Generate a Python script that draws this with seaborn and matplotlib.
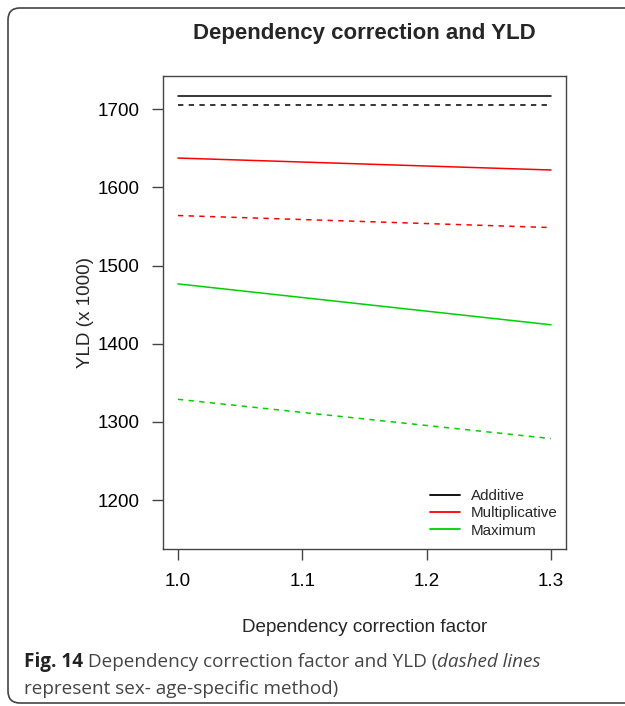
import matplotlib
matplotlib.use("Agg")
import matplotlib.pyplot as plt
import seaborn as sns
import pandas as pd
from matplotlib.lines import Line2D
from matplotlib.patches import FancyBboxPatch

# values (YLD x 1000)
factor = [1.0, 1.3]
additive = [1717.3, 1717.3]
additive_sa = [1705.5, 1705.5]
multiplicative = [1637.5, 1622.2]
multiplicative_sa = [1564.0, 1548.6]
maximum = [1476.6, 1424.3]
maximum_sa = [1329.0, 1278.8]

methods = ["Additive", "Multiplicative", "Maximum"]
colors = ["black", "#ff0000", "#00d000"]
x_ticks = [1.0, 1.1, 1.2, 1.3]
y_ticks = [1200, 1300, 1400, 1500, 1600, 1700]

rows = []
for m, overall, sa in zip(methods, [additive, multiplicative, maximum],
                          [additive_sa, multiplicative_sa, maximum_sa]):
    for f, v in zip(factor, overall):
        rows.append({"factor": f, "yld": v, "method": m, "approach": "overall"})
    for f, v in zip(factor, sa):
        rows.append({"factor": f, "yld": v, "method": m, "approach": "sex_age"})
df = pd.DataFrame(rows)

sns.set_style("ticks")
plt.rcParams["font.family"] = ["Liberation Sans", "DejaVu Sans"]

fig = plt.figure(figsize=(6.25, 7.06), dpi=100)
ax = fig.add_axes([163 / 625, 1 - 549 / 706, 403 / 625, 473 / 706])

sns.lineplot(data=df, x="factor", y="yld", hue="method", style="approach",
             hue_order=methods, palette=colors,
             style_order=["overall", "sex_age"],
             dashes={"overall": "", "sex_age": (3.5, 3.5)},
             linewidth=1.1, legend=False, ax=ax)

ax.set_xlim(0.988, 1.312)
ax.set_ylim(1137.6, 1742.4)
ax.set_xticks(x_ticks)
ax.set_xticklabels([f"{v:.1f}" for v in x_ticks])
ax.set_yticks(y_ticks)
ax.set_xlabel("")
ax.set_ylabel("")
for s in ax.spines.values():
    s.set_visible(True)
    s.set_color("#444444")
    s.set_linewidth(1.0)
ax.tick_params(axis="both", direction="out", length=8, width=1.0,
               color="#444444", labelsize=13.6, labelcolor="black")
ax.tick_params(axis="x", pad=9)
ax.tick_params(axis="y", pad=9)

handles = [Line2D([], [], color=c, lw=1.3) for c in colors]
ax.legend(handles, methods, loc="center left",
          bbox_to_anchor=((430 - 163) / 403, (549 - 513.5) / 473),
          frameon=False, fontsize=10.9, handlelength=1.95,
          handletextpad=0.75, labelspacing=0.2, borderpad=0,
          borderaxespad=0)

fig.text(364.5 / 625, 1 - 33 / 706, "Dependency correction and YLD",
         ha="center", va="center", fontsize=16, fontweight="bold")
fig.text(364.5 / 625, 1 - 628 / 706, "Dependency correction factor",
         ha="center", va="center", fontsize=13.6)
fig.text(85 / 625, 1 - 312.5 / 706, "YLD (x 1000)", ha="center",
         va="center", rotation=90, fontsize=13.6)

# rounded frame around the figure panel (right side runs off the image)
frame = FancyBboxPatch((0.08, 0.03), 6.6, 6.95,
                       boxstyle="round,pad=0,rounding_size=0.12",
                       transform=fig.dpi_scale_trans, fill=False,
                       edgecolor="#444444", linewidth=1.2, clip_on=False)
fig.patches.append(frame)

# caption with mixed font styles
fig.canvas.draw()
renderer = fig.canvas.get_renderer()
cap_font = ["Open Sans", "DejaVu Sans"]
cap_size = 13.6
line1 = [("Fig. 14", "bold", "normal", "#222222"),
         (" Dependency correction factor and YLD (", "normal", "normal", "#444444"),
         ("dashed lines", "normal", "italic", "#444444")]
x = 24 / 625
y1 = 1 - 662 / 706
for text, weight, style, col in line1:
    t = fig.text(x, y1, text, ha="left", va="center", fontsize=cap_size,
                 fontweight=weight, fontstyle=style, color=col, family=cap_font)
    bb = t.get_window_extent(renderer)
    x = bb.x1 / fig.bbox.width
fig.text(24 / 625, 1 - 689 / 706, "represent sex- age-specific method)",
         ha="left", va="center", fontsize=cap_size, fontweight="normal",
         color="#444444", family=cap_font)

plt.savefig("out.png", dpi=100)
